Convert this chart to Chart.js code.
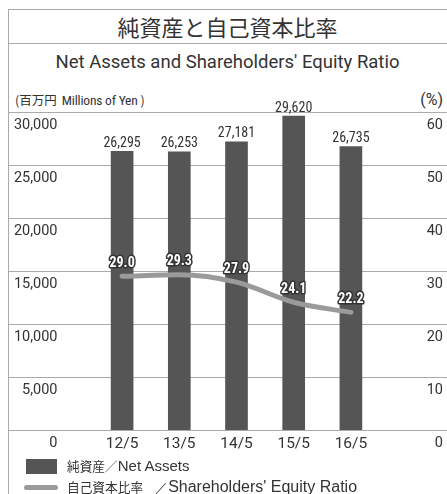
<!DOCTYPE html>
<html>
<head>
<meta charset="utf-8">
<script src="https://cdn.jsdelivr.net/npm/chart.js@4/dist/chart.umd.min.js"></script>
<style>
    body { margin: 0; background: #fff; }
    #wrap { position: relative; width: 447px; height: 494px; overflow: hidden; font-family: Roboto, 'Noto Sans CJK JP', sans-serif; color: #333; }
    #frame { position: absolute; left: 8px; top: 9px; width: 439px; height: 485px; border-left: 1px solid #aaa; border-top: 1px solid #aaa; }
    #title { position: absolute; left: 8px; top: 10px; width: 439px; height: 33px; border-bottom: 1px solid #aaa; text-align: center; font: 22px 'Noto Sans CJK JP', sans-serif; line-height: 33px; color: #333; }
    #subtitle { position: absolute; left: 8px; top: 49px; width: 439px; text-align: center; font-size: 18.5px; line-height: 26px; }
    #unitL { position: absolute; left: 15px; top: 90px; font: 12.5px 'Noto Sans CJK JP', sans-serif; line-height: 20px; white-space: nowrap; }
    #unitL span { font-family: Roboto, sans-serif; font-size: 13.5px; font-stretch: 75%; letter-spacing: -0.2px; margin: 0 3px 0 5px; }
    #unitR { position: absolute; right: 4px; top: 90px; font-size: 16px; line-height: 20px; }
    canvas { position: absolute; left: 0; top: 0; }
    .leg { position: absolute; left: 67px; font: 12.7px 'Noto Sans CJK JP', sans-serif; line-height: 18px; color: #333; white-space: nowrap; }
    .leg span { font-family: 'Liberation Sans', Arial, sans-serif; }
    #boxNet { position: absolute; left: 26px; top: 459px; width: 31px; height: 15px; background: #555; }
    #lineEq { position: absolute; left: 24px; top: 485px; width: 34px; height: 5px; border-radius: 3px; background: #9a9a9a; }
</style>
</head>
<body>
<div id="wrap">
    <div id="frame"></div>
    <div id="title">純資産と自己資本比率</div>
    <div id="subtitle">Net Assets and Shareholders' Equity Ratio</div>
    <div id="unitL">(百万円<span>Millions of Yen</span>)</div>
    <div id="unitR">(%)</div>
    <canvas id="chart" width="447" height="494"></canvas>
    <div id="boxNet"></div>
    <div class="leg" style="top:457px">純資産／<span style="font-size:15px">Net Assets</span></div>
    <div id="lineEq"></div>
    <div class="leg" style="top:478px">自己資本比率<span style="margin-left:12px">／</span><span style="font-size:16px">Shareholders' Equity Ratio</span></div>
</div>
<script>
const labels = ['12/5', '13/5', '14/5', '15/5', '16/5'];
const netAssets = [26295, 26253, 27181, 29620, 26735];
const equityRatio = [29.0, 29.3, 27.9, 24.1, 22.2];

const numFont = 'Roboto, sans-serif';

// grid lines run across the whole frame, not just the plot area
const gridPlugin = {
    id: 'fullGrid',
    beforeDatasetsDraw(chart) {
        const ctx = chart.ctx;
        const y = chart.scales.y;
        ctx.save();
        ctx.strokeStyle = '#aaa';
        ctx.lineWidth = 1;
        y.ticks.forEach(t => {
            const py = Math.round(y.getPixelForValue(t.value)) + 0.5;
            ctx.beginPath();
            ctx.moveTo(8, py);
            ctx.lineTo(447, py);
            ctx.stroke();
        });
        ctx.restore();
    }
};

const valuePlugin = {
    id: 'values',
    afterDatasetsDraw(chart) {
        const ctx = chart.ctx;
        ctx.save();
        ctx.textAlign = 'center';
        chart.getDatasetMeta(0).data.forEach((bar, i) => {
            ctx.font = 'semi-condensed 14px ' + numFont;
            ctx.fillStyle = '#333';
            ctx.textBaseline = 'bottom';
            ctx.fillText(netAssets[i].toLocaleString('en-US'), bar.x, bar.y - 1);
        });
        chart.getDatasetMeta(1).data.forEach((pt, i) => {
            ctx.font = 'bold semi-condensed 14px ' + numFont;
            ctx.textBaseline = 'middle';
            ctx.lineWidth = 3;
            ctx.strokeStyle = '#333';
            ctx.lineJoin = 'round';
            const txt = equityRatio[i].toFixed(1);
            ctx.strokeText(txt, pt.x, pt.y - 13);
            ctx.fillStyle = '#fff';
            ctx.fillText(txt, pt.x, pt.y - 13);
        });
        ctx.restore();
    }
};

new Chart(document.getElementById('chart'), {
    data: {
        labels: labels,
        datasets: [{
            type: 'bar',
            data: netAssets,
            backgroundColor: '#555555',
            barThickness: 22,
            yAxisID: 'y',
            order: 2
        }, {
            type: 'line',
            data: equityRatio,
            borderColor: '#9a9a9a',
            borderWidth: 5,
            borderCapStyle: 'round',
            pointRadius: 0,
            tension: 0.4,
            cubicInterpolationMode: 'monotone',
            yAxisID: 'y1',
            order: 1
        }]
    },
    options: {
        responsive: false,
        animation: false,
        layout: { padding: { left: 8, right: 4, top: 112, bottom: 34 } },
        plugins: {
            legend: { display: false },
            tooltip: { enabled: false }
        },
        scales: {
            x: {
                grid: { display: false, drawTicks: false },
                border: { display: false },
                ticks: { color: '#333', padding: 5, font: { family: numFont, size: 15.5 } },
                afterFit(s) { s.height = 30; }
            },
            y: {
                position: 'left',
                min: 0, max: 30000,
                grid: { display: false, drawTicks: false },
                border: { display: false },
                ticks: {
                    stepSize: 5000,
                    padding: 36,
                    labelOffset: 13,
                    color: '#333',
                    font: { family: numFont, size: 14.5 },
                    callback: v => v.toLocaleString('en-US')
                },
                afterFit(s) { s.width = 85.5; }
            },
            y1: {
                position: 'right',
                min: 0, max: 60,
                grid: { display: false, drawTicks: false },
                border: { display: false },
                ticks: {
                    stepSize: 10,
                    labelOffset: 13,
                    crossAlign: 'far',
                    color: '#333',
                    font: { family: numFont, size: 14.5 }
                },
                afterFit(s) { s.width = 63.5; }
            }
        }
    },
    plugins: [gridPlugin, valuePlugin]
});
</script>
</body>
</html>
